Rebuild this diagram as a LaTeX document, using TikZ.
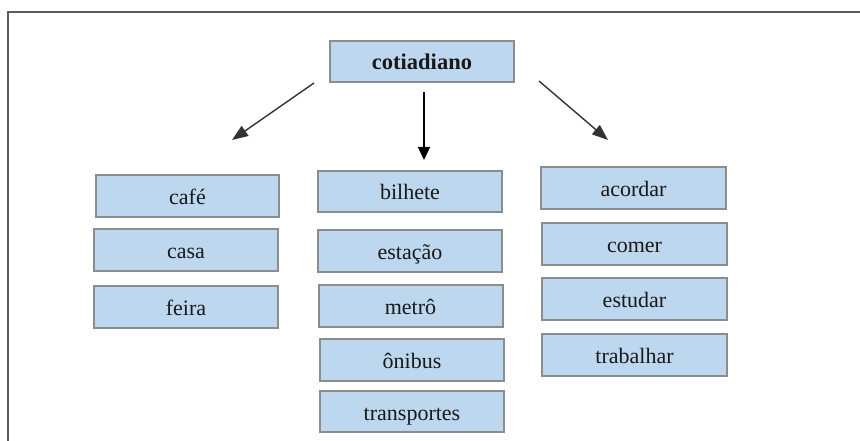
\documentclass[tikz,border=0pt]{standalone}
\usepackage{fontspec}
\setmainfont{Liberation Serif}
\usetikzlibrary{arrows.meta}
\definecolor{boxfill}{HTML}{BDD7EE}
\definecolor{boxline}{HTML}{8C8C8C}
\definecolor{frameline}{HTML}{5A5A5A}
\definecolor{arrowdark}{HTML}{333333}
\begin{document}
\begin{tikzpicture}[x=1pt,y=-1pt,
  wordbox/.style={draw=boxline, fill=boxfill, line width=2pt,
    minimum width=184pt, minimum height=41.5pt, inner sep=0pt,
    text height=17pt, text depth=0pt,
    font=\fontsize{22}{26}\selectfont, text=black!90},
  topbox/.style={wordbox, font=\fontsize{22.5}{26}\selectfont\bfseries},
  link/.style={line width=1.4pt, draw=arrowdark,
    -{Triangle[length=16pt,width=12pt]}},
  downlink/.style={line width=1.4pt, draw=black,
    -{Triangle[length=13pt,width=12pt]}}]
\useasboundingbox (0,0) rectangle (860,441);

% open frame: top and left edges
\draw[frameline, line width=1.6pt] (8,441) -- (8,12) -- (860,12);

% root
\node[topbox] (cot) at (422,61.5) {cotiadiano};

% left column
\node[wordbox, minimum width=183pt] (cafe) at (187.5,196) {café};
\node[wordbox] (casa) at (186,250) {casa};
\node[wordbox] (feira) at (186,307) {feira};

% middle column
\node[wordbox] (bilhete) at (410,191.5) {bilhete};
\node[wordbox] (estacao) at (410,251) {estação};
\node[wordbox] (metro) at (410.5,306) {metrô};
\node[wordbox] (onibus) at (412,360) {ônibus};
\node[wordbox] (transportes) at (412,411.5) {transportes};

% right column
\node[wordbox, minimum width=185pt] (acordar) at (633.5,188) {acordar};
\node[wordbox, minimum width=185pt] (comer) at (634.5,244) {comer};
\node[wordbox, minimum width=185pt] (estudar) at (634.5,299) {estudar};
\node[wordbox, minimum width=185pt] (trabalhar) at (634.5,355) {trabalhar};

% free-standing arrow ends
\coordinate (lstart) at (314,83);
\coordinate (lend) at (232,140);
\coordinate (mstart) at (424,92);
\coordinate (mend) at (424,160);
\coordinate (rstart) at (539,81);
\coordinate (rend) at (608,140);

\draw[link] (lstart) -- (lend);
\draw[downlink] (mstart) -- (mend);
\draw[link] (rstart) -- (rend);
\end{tikzpicture}
\end{document}
